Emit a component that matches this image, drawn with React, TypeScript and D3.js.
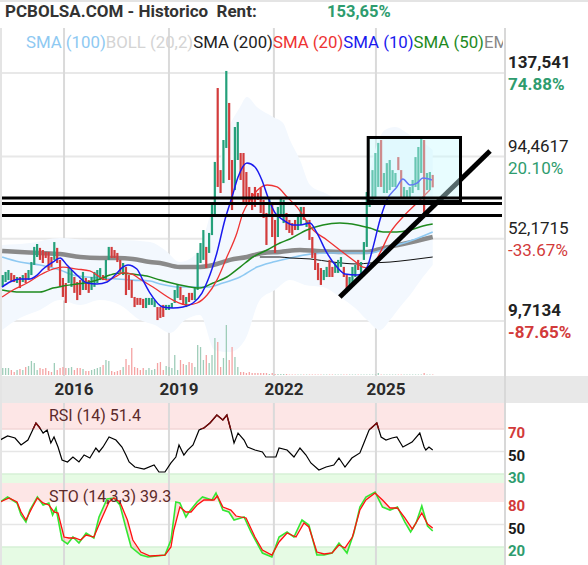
import React from 'react';
import * as d3 from 'd3';

// ---------- DATA ----------
const candleOpen = [
  27.3, 29.8, 30.8, 34.5, 33.4, 29.3, 32.4, 29.8, 34.5, 30.8,
  33.4, 38.6, 42.7, 47.4, 46.3, 45.3, 45.3, 42.7, 41.2, 47.4,
  41.2, 31.9, 29.3, 29.3, 27.3, 32.4, 29.8, 30.8, 25.7, 31.9,
  30.8, 25.7, 27.3, 29.3, 30.8, 33.4, 30.8, 41.2, 47.9, 46.3,
  44.8, 41.2, 33.4, 37.6, 33.4, 30.8, 22.1, 21.6, 21.6, 21.1,
  16.4, 18.0, 18.0, 16.9, 16.9, 16.9, 18.0, 15.4, 15.4, 16.4,
  19.0, 21.6, 27.3, 23.1, 16.9, 24.2, 24.2, 20.5, 25.7, 39.6,
  41.2, 47.9, 44.8, 54.0, 63.3, 129.8, 87.5, 80.8, 98.9, 122.1,
  92.7, 77.2, 92.7, 96.3, 96.3, 86.5, 78.8, 75.7, 78.8, 75.7,
  78.3, 72.1, 65.4, 63.3, 70.5, 61.8, 53.0, 63.3, 60.2, 65.4,
  61.8, 60.2, 61.8, 56.6, 59.2, 68.5, 58.2, 61.8, 53.0, 44.8,
  39.6, 37.0, 30.8, 32.4, 41.2, 37.6, 34.5, 34.5, 37.6, 37.6,
  33.4, 27.3, 29.3, 32.4, 41.2, 33.4, 41.2, 47.9, 68.5, 70.5,
  73.6, 78.8, 103.0, 75.7, 75.7, 77.2, 78.8, 78.8, 94.2, 87.5,
  73.6, 73.6, 73.6, 75.7, 78.8, 77.2, 86.0, 103.0, 77.2, 77.2,
  85.0,
];
const candleClose = [
  33.4, 35.0, 36.0, 29.8, 29.8, 32.4, 26.7, 33.4, 29.3, 36.0,
  40.1, 47.9, 49.4, 41.2, 39.6, 42.2, 36.0, 37.6, 50.4, 39.6,
  27.3, 22.1, 19.0, 37.6, 36.0, 24.2, 20.5, 23.1, 35.0, 25.7,
  24.2, 32.4, 35.0, 36.0, 37.0, 30.8, 41.2, 47.9, 42.2, 42.2,
  40.1, 35.0, 39.6, 23.1, 25.7, 21.6, 16.9, 18.0, 18.0, 16.4,
  21.6, 21.6, 21.6, 20.5, 10.2, 11.3, 11.8, 18.0, 18.0, 19.0,
  25.7, 28.3, 20.5, 18.0, 22.1, 19.5, 20.5, 26.7, 44.8, 49.9,
  56.6, 37.0, 55.1, 70.5, 91.7, 78.8, 75.7, 103.0, 138.6, 82.4,
  66.9, 109.7, 112.3, 82.4, 70.5, 70.5, 70.5, 66.9, 68.5, 72.1,
  65.4, 62.8, 48.9, 73.6, 53.0, 44.8, 68.5, 73.6, 72.1, 56.6,
  55.1, 54.0, 56.6, 64.4, 68.5, 61.8, 61.8, 51.5, 42.2, 36.0,
  30.8, 28.3, 36.0, 37.6, 32.4, 32.4, 39.6, 41.2, 42.7, 32.4,
  26.7, 32.4, 37.6, 38.6, 36.0, 40.1, 50.4, 76.2, 73.6, 87.5,
  96.3, 101.5, 78.8, 86.0, 91.1, 92.7, 87.5, 86.0, 87.5, 73.6,
  78.8, 77.2, 78.8, 82.4, 94.2, 99.4, 104.5, 65.4, 86.0, 86.5,
  78.6,
];
const volumes = [
  7, 7, 7, 5, 3, 5, 6, 5, 8, 9, 14, 12, 5, 7, 6, 7, 4, 3, 12, 5,
  7, 8, 7, 7, 8, 5, 7, 7, 6, 4, 4, 5, 6, 7, 8, 10, 15, 14, 4, 3,
  4, 5, 8, 16, 10, 27, 8, 7, 5, 7, 5, 7, 5, 6, 12, 13, 5, 9, 8, 7,
  20, 5, 15, 11, 10, 13, 12, 8, 30, 28, 15, 20, 12, 20, 37, 33, 8, 17, 50, 15,
  28, 18, 8, 3, 3, 2, 3, 2, 2, 2, 2, 2, 2, 1, 2, 1, 1, 1, 1, 1,
  0.5, 0.5, 0.5, 0.5, 0.5, 0.5, 0.5, 0.5, 0.5, 0.5, 0.5, 0.5, 0.5, 0.5, 0.5, 0.5, 0.5, 0.5, 0.5, 0.5,
  0.5, 0.5, 0.5, 0.5, 0.5, 0.5, 0.5, 0.5, 0.5, 0.5, 0.5, 2, 0.5, 0.5, 0.5, 0.5, 0.5, 0.5, 0.5, 0.5,
  0.5, 0.5, 0.5, 0.5, 0.5, 0.5, 0.5, 2, 0.5, 0.5, 0.5,
];

// moving averages [candle index, price]
const sma10: [number, number][] = [
  [-0.2, 27.2], [2.5, 29.8], [6.0, 31.4], [9.5, 31.4], [12.0, 33.4], [14.1, 36.5], [17.5, 40.1],
  [20.0, 42.2], [22.4, 38.6], [25.9, 33.4], [29.4, 29.3], [32.9, 28.8], [36.4, 29.8], [39.2, 33.4],
  [42.0, 37.6], [43.7, 38.6], [46.8, 36.5], [48.9, 30.8], [51.4, 24.1], [55.9, 16.9], [59.4, 16.4],
  [62.9, 16.9], [66.4, 19.0], [69.5, 24.1], [71.6, 30.8], [74.7, 44.8], [77.5, 61.8], [80.0, 73.6],
  [82.1, 83.9], [85.2, 91.1], [88.0, 89.1], [90.4, 82.4], [92.5, 73.6], [95.0, 65.4], [97.8, 61.8],
  [101.3, 59.2], [103.7, 59.2], [107.2, 60.2], [109.6, 55.1], [113.1, 44.8], [116.6, 37.5],
  [119.4, 33.9], [123.6, 33.4], [127.1, 37.5], [129.2, 47.8], [131.6, 61.8], [134.0, 72.1],
  [137.5, 78.8], [139.6, 82.9], [142.1, 79.8], [144.5, 80.8], [146.6, 83.4], [149.7, 82.4],
];
const sma20: [number, number][] = [
  [-0.2, 22.1], [3.6, 25.7], [8.5, 29.3], [13.0, 33.4], [17.5, 36.5], [21.0, 37.5], [25.9, 36.5],
  [30.4, 35.5], [33.9, 32.4], [36.4, 30.8], [39.2, 32.4], [42.0, 34.5], [45.1, 33.9], [47.9, 31.3],
  [52.4, 27.2], [59.4, 20.5], [64.3, 18.0], [67.8, 19.0], [71.3, 23.1], [74.7, 30.8], [78.2, 42.7],
  [81.7, 55.1], [83.8, 65.4], [86.3, 72.1], [89.7, 78.3], [92.2, 79.8], [95.7, 78.8], [99.2, 73.6],
  [102.6, 68.5], [108.3, 56.6], [113.1, 51.5], [117.6, 46.3], [122.2, 41.2], [125.7, 37.5],
  [128.1, 37.0], [131.6, 44.8], [135.1, 55.1], [139.6, 63.3], [144.5, 70.5], [149.0, 77.2],
];
const sma50: [number, number][] = [
  [-0.2, 25.7], [6.0, 24.6], [13.0, 24.6], [17.5, 26.7], [21.0, 27.7], [25.9, 28.8], [30.4, 29.8],
  [33.9, 31.3], [37.4, 33.4], [40.9, 34.5], [45.4, 33.9], [50.3, 32.9], [54.9, 30.8], [61.8, 28.3],
  [68.8, 26.7], [73.4, 29.3], [78.2, 32.4], [82.8, 37.5], [87.3, 42.7], [92.2, 46.3], [96.7, 49.9],
  [100.2, 52.0], [106.1, 56.6], [111.7, 59.2], [117.6, 60.2], [123.6, 59.2], [128.1, 57.6],
  [132.7, 55.6], [137.5, 55.6], [142.1, 56.6], [146.6, 58.7], [150.0, 59.7],
];
const sma100: [number, number][] = [
  [-0.2, 42.7], [6.0, 40.1], [13.0, 38.6], [20.0, 36.0], [24.5, 33.4], [29.4, 32.4], [33.9, 31.9],
  [39.9, 31.4], [45.4, 30.8], [51.4, 30.3], [54.9, 28.8], [61.8, 27.2], [71.3, 27.2], [76.8, 29.3],
  [82.8, 32.4], [88.7, 37.5], [94.3, 40.1], [100.2, 42.2], [107.2, 44.2], [114.2, 44.8],
  [121.1, 44.8], [128.1, 44.8], [135.1, 47.8], [142.1, 50.9], [150.0, 55.6],
];
const sma200: [number, number][] = [
  [-0.2, 45.8], [6.0, 45.3], [13.0, 44.8], [20.0, 44.2], [27.0, 42.7], [33.9, 42.2], [39.9, 42.2],
  [45.4, 41.7], [51.4, 40.1], [54.9, 39.6], [61.8, 37.5], [67.8, 37.5], [73.4, 38.6], [79.3, 41.2],
  [85.2, 42.7], [90.8, 44.8], [96.7, 45.3], [103.7, 46.3], [109.6, 45.8], [118.7, 45.3],
  [127.1, 45.3], [132.7, 47.3], [139.6, 49.4], [150.0, 53.0],
];
const ema: [number, number][] = [
  [89.7, 42.7], [96.7, 42.7], [100.2, 42.2], [107.2, 41.7], [115.2, 40.1], [123.6, 39.1],
  [128.1, 39.6], [135.1, 40.1], [142.1, 41.2], [150.0, 42.7],
];
const bollUpper: [number, number][] = [
  [-0.2, 48.9], [9.5, 49.9], [20.0, 52.5], [30.4, 51.5], [40.9, 51.5], [51.4, 50.4], [56.6, 46.3],
  [61.8, 40.1], [67.1, 43.7], [72.3, 64.3], [77.5, 103.0], [82.8, 120.0], [85.2, 125.2], [88.7, 120.0],
  [94.3, 114.9], [97.8, 111.8], [100.2, 103.0], [103.7, 92.7], [107.2, 79.8], [112.4, 75.7],
  [117.6, 72.1], [122.9, 69.5], [126.4, 74.6], [129.9, 97.8], [133.3, 108.2], [136.8, 109.7],
  [142.1, 105.6], [145.5, 103.0], [150.0, 97.8],
];
const bollLower: [number, number][] = [
  [-0.2, 5.0], [6.0, 11.2], [13.0, 15.4], [20.0, 20.5], [27.0, 17.9], [33.9, 20.5], [40.9, 17.9],
  [47.9, 10.2], [53.1, 7.6], [58.4, 3.5], [63.6, 10.2], [68.8, 12.8], [74.0, -5.3], [79.3, -6.3],
  [84.5, -0.1], [89.7, 20.5], [95.0, 25.7], [100.2, 30.8], [105.4, 28.3], [111.7, 27.2],
  [117.6, 22.1], [122.9, 16.4], [127.1, 10.2], [131.6, 5.0], [135.1, 10.2], [138.6, 16.9],
  [142.1, 23.1], [146.6, 32.4], [150.0, 38.6],
];

// indicators [candle index, value]
const rsi: [number, number][] = [
  [-0.9, 60.2], [1.7, 63.8], [4.3, 62.0], [6.4, 55.8], [8.8, 60.2], [11.6, 75.3], [12.7, 71.8],
  [14.1, 66.4], [15.5, 69.1], [16.8, 57.6], [17.9, 62.9], [19.3, 54.0], [20.7, 42.4], [22.6, 40.7],
  [24.5, 45.1], [26.6, 40.7], [28.4, 46.9], [30.4, 44.2], [32.5, 53.1], [33.6, 49.6], [35.0, 54.0],
  [37.1, 62.9], [39.5, 60.2], [41.6, 54.0], [43.0, 46.9], [44.1, 40.7], [46.1, 36.2], [49.3, 34.4],
  [52.8, 38.0], [54.5, 31.8], [56.6, 31.8], [58.7, 39.8], [60.4, 45.1], [61.5, 55.8], [63.2, 46.9],
  [64.5, 51.3], [66.4, 55.8], [68.5, 69.1], [70.2, 70.9], [72.3, 75.3], [74.7, 82.4], [76.8, 78.0],
  [78.2, 82.4], [79.6, 69.1], [80.7, 57.6], [82.1, 66.4], [84.2, 60.2], [85.4, 54.0], [88.0, 51.3],
  [90.6, 49.6], [91.8, 45.1], [95.3, 45.1], [96.4, 53.1], [99.2, 51.3], [101.6, 45.1], [103.7, 53.1],
  [105.8, 46.9], [107.5, 39.8], [110.3, 33.6], [112.8, 36.2], [115.5, 38.0], [117.3, 44.2],
  [119.4, 36.2], [121.8, 44.2], [124.6, 48.7], [126.0, 57.6], [127.8, 69.1], [130.5, 75.3],
  [132.0, 62.9], [133.7, 60.2], [135.8, 62.0], [137.5, 62.9], [139.6, 54.0], [142.8, 58.4],
  [145.5, 66.4], [147.0, 54.0], [147.6, 51.3], [148.7, 54.0], [150.0, 51.4],
];
const stoK: [number, number][] = [
  [-0.9, 80], [1.7, 86.7], [5.0, 78.7], [6.4, 62.7], [8.1, 53.3], [9.5, 69.3], [12.1, 86.7],
  [14.1, 76], [16.1, 78.7], [17.4, 62.7], [18.6, 72], [20.7, 29.3], [22.6, 24], [24.5, 33.3],
  [26.6, 25.3], [29.1, 38.7], [31.8, 32], [33.6, 60], [36.4, 84], [38.8, 85.3], [40.9, 76],
  [42.9, 46.7], [44.8, 20], [48.2, 9.3], [50.7, 6.7], [56.6, 9.3], [58.7, 29.3], [60.4, 80],
  [61.8, 78.7], [63.9, 60], [65.0, 66.7], [67.8, 80], [69.7, 86.7], [73.0, 82.7], [74.4, 92],
  [76.8, 69.3], [78.9, 66.7], [80.7, 56], [84.2, 60], [86.6, 40], [90.6, 12], [93.9, 6.7],
  [96.4, 33.3], [99.2, 40], [101.6, 33.3], [104.4, 56], [106.8, 49.3], [109.6, 9.3], [112.1, 9.3],
  [114.9, 12], [117.3, 25.3], [120.1, 12], [122.5, 38.7], [124.6, 73.3], [126.7, 86.7],
  [129.9, 93.3], [132.5, 73.3], [135.1, 69.3], [137.7, 73.3], [140.3, 53.3], [142.3, 40],
  [144.2, 52], [146.2, 74.7], [148.2, 48], [150.0, 41.3],
];
const stoD: [number, number][] = [
  [-0.9, 80], [2.2, 85.3], [5.0, 80], [6.4, 66.7], [8.1, 56], [10.2, 72], [12.1, 85.3], [14.1, 78.7],
  [16.1, 76], [17.9, 66.7], [19.3, 65.3], [21.4, 33.3], [23.1, 32], [25.2, 32], [27.2, 29.3],
  [29.1, 36], [31.8, 33.3], [34.3, 56], [37.1, 80], [38.8, 85.3], [40.9, 80], [43.5, 56],
  [45.4, 29.3], [48.2, 13.3], [51.4, 8], [56.6, 9.3], [58.7, 20], [59.7, 42.7], [61.8, 73.3],
  [63.9, 66.7], [65.7, 66.7], [67.8, 76], [70.2, 82.7], [73.7, 82.7], [74.9, 88], [76.8, 73.3],
  [79.6, 69.3], [81.4, 61.3], [84.9, 58.7], [88.0, 33.3], [90.6, 16], [93.9, 9.3], [96.4, 26.7],
  [99.2, 38.7], [102.3, 33.3], [105.1, 52], [106.8, 46.7], [109.6, 13.3], [112.1, 10.7],
  [114.9, 12], [117.3, 22.7], [119.4, 18.7], [122.0, 33.3], [124.6, 69.3], [126.7, 82.7],
  [129.9, 92], [132.5, 82.7], [135.1, 72], [137.7, 72], [140.3, 58.7], [142.9, 44], [146.2, 65.3],
  [148.2, 50.7], [150.0, 45.3],
];

// drawings
const hLevels = [73.1, 70.3, 64.1];
const trendLine: [number, number][] = [[117.6, 22.1], [170.0, 97.3]];
const boxIdx = [127.5, 159.7];
const boxPrice = [104.3, 71.3];

// axes
const yearTicks = ['2016', '2019', '2022', '2025'];
const yearTickIdx = [21.4, 58.0, 94.6, 130.2];
const priceTicks = [137.541, 94.4617, 52.1715, 9.7134];
const priceTickLabels = ['137,541', '94,4617', '52,1715', '9,7134'];
const pctLabels = ['74.88%', '20.10%', '-33.67%', '-87.65%'];
const rsiLevels = [70, 50, 30];
const stoLevels = [80, 50, 20];

const legendItems = ['SMA (100)', 'BOLL (20,2)', 'SMA (200)', 'SMA (20)', 'SMA (10)', 'SMA (50)', 'EMA (100)'];
const legendColors = ['#8ec9f2', '#d4d4d4', '#222222', '#ee3333', '#1a1aee', '#1e8a1e', '#888888'];

const GREEN = '#24a07a';
const RED = '#d33c3c';
const TXT_GREEN = '#2e9c6e';
const TXT_RED = '#d23a3a';

export default function App() {
  const PL = 1, PR = 505, PT = 28, PB = 376;
  const x = d3.scaleLinear().domain([0, 150]).range([2.7, 432.7]);
  const y = d3.scaleLinear().domain([9.7134, 137.541]).range([321, 73]);
  const yVol = d3.scaleLinear().domain([0, 50]).range([375, 325]);
  const yRsi = d3.scaleLinear().domain([30, 70]).range([474, 429]);
  const ySto = d3.scaleLinear().domain([20, 80]).range([547, 502]);

  const priceLine = d3.line<[number, number]>().x(d => x(d[0])).y(d => y(d[1])).curve(d3.curveMonotoneX);
  const rsiLine = d3.line<[number, number]>().x(d => x(d[0])).y(d => yRsi(d[1]));
  const stoLine = d3.line<[number, number]>().x(d => x(d[0])).y(d => ySto(d[1]));
  const bollPath = (priceLine(bollUpper) || '')
    + (priceLine(bollLower.slice().reverse()) || '').replace(/^M/, 'L') + 'Z';
  const stoFill = (stoLine(stoK) || '') + (stoLine(stoD.slice().reverse()) || '').replace(/^M/, 'L') + 'Z';

  const font = "Roboto, 'Noto Sans', sans-serif";

  return (
    <svg width={588} height={565} style={{ position: 'absolute', left: 0, top: 0, background: '#fff' }} fontFamily={font}>
      <defs>
        <clipPath id="mainClip"><rect x={PL} y={PT} width={PR - PL} height={PB - PT} /></clipPath>
        <clipPath id="rsiClip"><rect x={PL} y={403} width={PR - PL} height={80} /></clipPath>
        <clipPath id="rsiHigh"><rect x={PL} y={403} width={PR - PL} height={yRsi(70) - 403} /></clipPath>
        <clipPath id="stoClip"><rect x={PL} y={483} width={PR - PL} height={82} /></clipPath>
        <clipPath id="legendClip"><rect x={0} y={25} width={503} height={30} /></clipPath>
      </defs>
      <rect x={0} y={0} width={588} height={565} fill="#fff" />
      <rect x={0} y={0} width={588} height={2} fill="#e4e4e4" />

      {/* panel backgrounds */}
      <rect x={0} y={PB} width={588} height={27} fill="#e8e8e8" />
      <rect x={PL} y={403} width={PR - PL} height={yRsi(70) - 403} fill="#fde6e6" />
      <rect x={PL} y={yRsi(30)} width={PR - PL} height={483 - yRsi(30)} fill="#e6fbe4" />
      <rect x={PL} y={483} width={PR - PL} height={ySto(80) - 483} fill="#fde6e6" />
      <rect x={PL} y={ySto(20)} width={PR - PL} height={565 - ySto(20)} fill="#e6fbe4" />
      <line x1={PL} x2={PR} y1={yRsi(70)} y2={yRsi(70)} stroke="#f2d6d6" strokeWidth={1.5} />
      <line x1={PL} x2={PR} y1={yRsi(50)} y2={yRsi(50)} stroke="#e6e6e6" strokeWidth={1.5} />
      <line x1={PL} x2={PR} y1={yRsi(30)} y2={yRsi(30)} stroke="#d6f0d6" strokeWidth={1.5} />
      <line x1={PL} x2={PR} y1={ySto(50)} y2={ySto(50)} stroke="#e6e6e6" strokeWidth={1.5} />
      <line x1={PL} x2={PR} y1={ySto(20)} y2={ySto(20)} stroke="#d6f0d6" strokeWidth={1.5} />

      {/* grid */}
      {priceTicks.map((p, i) => (
        <line key={'hg' + i} x1={PL} x2={PR} y1={y(p)} y2={y(p)} stroke="#e8e8e8" strokeWidth={2} />
      ))}
      {yearTickIdx.map((t, i) => (
        <g key={'vg' + i}>
          <line x1={x(t)} x2={x(t)} y1={PT} y2={PB} stroke="#dadada" strokeWidth={2} />
          <line x1={x(t)} x2={x(t)} y1={403} y2={565} stroke="#dadada" strokeWidth={2} />
        </g>
      ))}
      <line x1={1} x2={1} y1={PT} y2={565} stroke="#e4e4e4" strokeWidth={2} />
      <line x1={PR} x2={PR} y1={PT} y2={565} stroke="#d8d8d8" strokeWidth={2} />

      {/* main plot */}
      <g clipPath="url(#mainClip)">
        <path d={bollPath} fill="#f3f8fe" stroke="none" />
        {volumes.map((v, i) => (
          <rect key={'v' + i} x={x(i) - 0.6} width={1.3} y={yVol(v)} height={375 - yVol(v)}
            fill={candleClose[i] >= candleOpen[i] ? '#9fcdb9' : '#f4a3a3'} />
        ))}
        <path d={priceLine(sma200) || ''} fill="none" stroke="#8a8a8a" strokeWidth={4.5} />
        <path d={priceLine(sma100) || ''} fill="none" stroke="#8ec9f2" strokeWidth={1.6} />
        <path d={priceLine(ema) || ''} fill="none" stroke="#111" strokeWidth={1} />
        {candleOpen.map((o, i) => {
          const c = candleClose[i];
          const top = y(Math.max(o, c));
          const h = Math.max(1, Math.abs(y(o) - y(c)));
          return <rect key={'c' + i} x={x(i) - 1.1} width={2.2} y={top} height={h} fill={c >= o ? GREEN : RED} />;
        })}
        <path d={priceLine(sma50) || ''} fill="none" stroke="#1e8a1e" strokeWidth={1.5} />
        <path d={priceLine(sma20) || ''} fill="none" stroke="#ee3333" strokeWidth={1.3} />
        <path d={priceLine(sma10) || ''} fill="none" stroke="#1a1aee" strokeWidth={1.5} />
        <line x1={x(trendLine[0][0])} y1={y(trendLine[0][1])} x2={x(trendLine[1][0])} y2={y(trendLine[1][1])}
          stroke="#000" strokeWidth={5} />
        <rect x={x(boxIdx[0])} y={y(boxPrice[0])} width={x(boxIdx[1]) - x(boxIdx[0])} height={y(boxPrice[1]) - y(boxPrice[0])}
          fill="rgba(200,250,255,0.42)" stroke="#000" strokeWidth={3} />
        {hLevels.map((p, i) => (
          <line key={'hl' + i} x1={2} x2={502} y1={y(p)} y2={y(p)} stroke="#000" strokeWidth={3} />
        ))}
      </g>

      {/* header */}
      <text x={5} y={17} fontSize={17} fontWeight="bold" fill="#333" style={{ whiteSpace: 'pre' }}>{'PCBOLSA.COM - Historico  Rent:'}</text>
      <text x={327} y={17} fontSize={16.5} fontWeight="bold" fill={TXT_GREEN}>153,65%</text>
      <g clipPath="url(#legendClip)">
        <text x={26} y={48} fontSize={16.8}>
          {legendItems.map((t, i) => <tspan key={'lg' + i} fill={legendColors[i]}>{t}</tspan>)}
        </text>
      </g>

      {/* right axis */}
      {priceTicks.map((p, i) => {
        const bold = i === 0 || i === priceTicks.length - 1;
        return (
          <g key={'pl' + i}>
            <text x={508} y={y(p) - 5} fontSize={17} fontWeight={bold ? 'bold' : 'normal'} fill="#222">{priceTickLabels[i]}</text>
            <text x={508} y={y(p) + 17} fontSize={17} fontWeight={bold ? 'bold' : 'normal'}
              fill={pctLabels[i].startsWith('-') ? TXT_RED : TXT_GREEN}>{pctLabels[i]}</text>
          </g>
        );
      })}

      {/* x axis */}
      {yearTicks.map((t, i) => (
        <text key={'yt' + i} x={x(yearTickIdx[i]) + 10} y={395} fontSize={17} fontWeight="bold" fill="#2a2a2a" textAnchor="middle">{t}</text>
      ))}

      {/* RSI */}
      <g clipPath="url(#rsiClip)">
        <path d={rsiLine(rsi) || ''} fill="none" stroke="#000" strokeWidth={1.2} />
      </g>
      <g clipPath="url(#rsiHigh)">
        <path d={rsiLine(rsi) || ''} fill="none" stroke="#7a0a0a" strokeWidth={1.4} />
      </g>
      <text x={49} y={421} fontSize={16} fill="#5c2a2a">RSI (14) 51.4</text>
      {rsiLevels.map((l, i) => (
        <text key={'rl' + i} x={508} y={yRsi(l) + 9} fontSize={15} fontWeight="bold"
          fill={i === 0 ? TXT_RED : i === 1 ? '#1a1a1a' : TXT_GREEN}>{l}</text>
      ))}

      {/* STO */}
      <g clipPath="url(#stoClip)">
        <path d={stoFill} fill="rgba(255,120,120,0.28)" stroke="none" />
        <path d={stoLine(stoK) || ''} fill="none" stroke="#33e833" strokeWidth={1.6} />
        <path d={stoLine(stoD) || ''} fill="none" stroke="#ff1010" strokeWidth={1.3} />
      </g>
      <text x={49} y={502} fontSize={16} fill="#5c2a2a">STO (14,3,3) 39.3</text>
      {stoLevels.map((l, i) => (
        <text key={'sl' + i} x={508} y={ySto(l) + 9} fontSize={15} fontWeight="bold"
          fill={i === 0 ? TXT_RED : i === 1 ? '#1a1a1a' : TXT_GREEN}>{l}</text>
      ))}
    </svg>
  );
}
